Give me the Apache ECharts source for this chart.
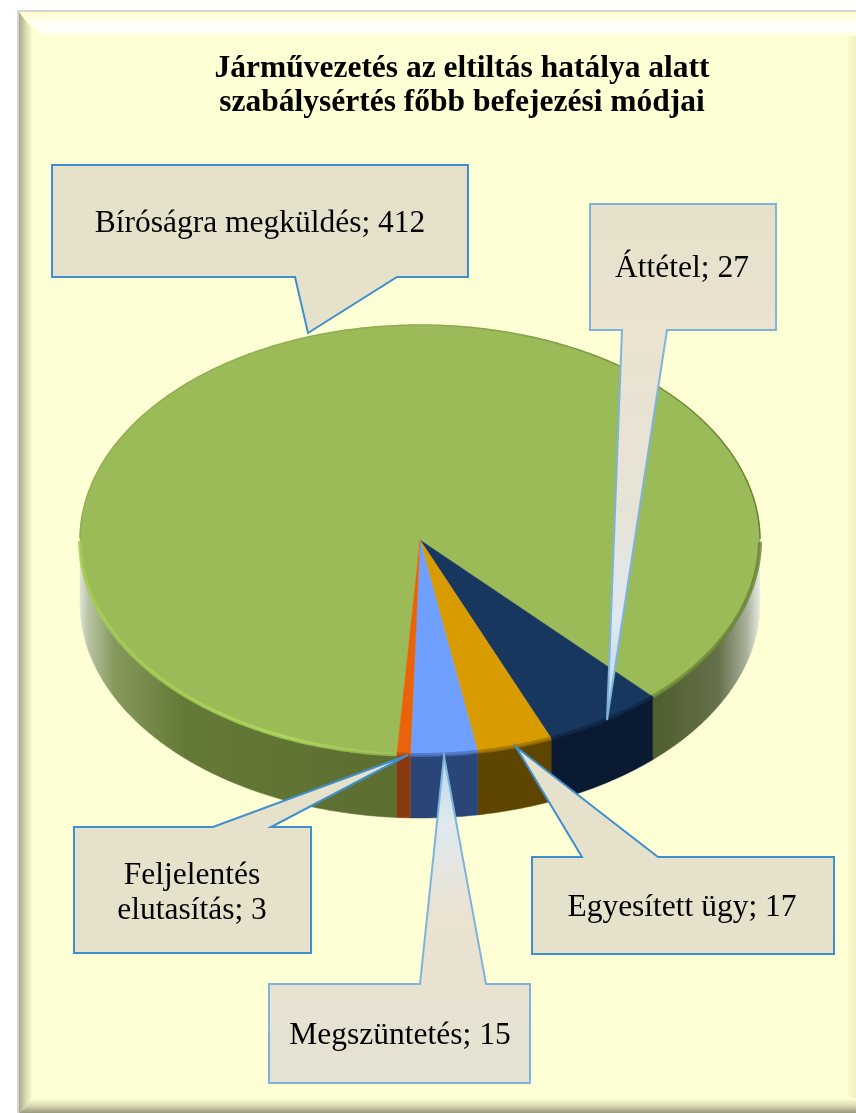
<!DOCTYPE html>
<html>
<head>
<meta charset="utf-8">
<style>
  html, body { margin: 0; padding: 0; background: #fff; }
  #main { width: 856px; height: 1113px; }
</style>
<script src="https://cdn.jsdelivr.net/npm/echarts@6/dist/echarts.min.js"></script>
</head>
<body>
<div id="main"></div>
<script>
var chartTitle = 'Járművezetés az eltiltás hatálya alatt\nszabálysértés főbb befejezési módjai'
// clockwise from the big slice
var categories = ['Bíróságra megküldés', 'Áttétel', 'Egyesített ügy', 'Megszüntetés', 'Feljelentés elutasítás']
var values = [412, 27, 17, 15, 3]

var topColors = ['#9bbb59', '#17375e', '#d99c00', '#6f9fff', '#e8630a']
var wallColors = ['#5c6e30', '#0b1a33', '#5e4500', '#2a4577', '#8a3a10']
var rimColors = ['#9bbb59', '#0f2445', '#9c7200', '#4d70b8', '#b54a08']

var TILT = 215 / 340 // ellipse ratio
var DEPTH = 63

// callout geometry, same order as categories
var callouts = [
  { box: [52, 165, 468, 277], side: 'bottom', base: [295, 397], tip: [308, 333], textAt: [260, 224] },
  { box: [590, 204, 776, 330], side: 'bottom', base: [622, 667], tip: [607, 720], textAt: [682, 269], glow: [[0, '#e6e1cb'], [0.25, '#ebe2d0'], [0.6, '#e6e3d6'], [0.8, '#dfe9ef'], [1, '#b8d6ea']] },
  { box: [532, 857, 834, 954], side: 'top', base: [582, 658], tip: [516, 747], textAt: [682, 908] },
  { box: [269, 984, 530, 1083], side: 'top', base: [420, 486], tip: [444, 756], textAt: [400, 1036], glow: [[0, '#b8d6ea'], [0.2, '#dfe9ef'], [0.5, '#ebe2d0'], [1, '#e4e2d2']] },
  { box: [74, 827, 311, 953], side: 'top', base: [213, 271], tip: [408, 755], textAt: [192, 893], wrap: true }
]

var rows = []
var cum = 0
values.forEach(function (v) {
  rows.push([1, cum, v])
  cum += v
})
var total = cum

function grad (x1, y1, x2, y2, stops) {
  return new echarts.graphic.LinearGradient(x1, y1, x2, y2, stops.map(function (s) {
    return { offset: s[0], color: s[1] }
  }), true)
}

// points of one slice's arc, squashed to the ellipse
function arcPoints (api) {
  var start = api.value(1)
  var size = api.value(2)
  var cy = api.coord([0, 0])[1]
  var steps = Math.max(4, Math.round(size))
  var pts = []
  for (var i = 0; i <= steps; i++) {
    var p = api.coord([1, start + size * i / steps])
    pts.push([p[0], cy + (p[1] - cy) * TILT])
  }
  return pts
}

// split an arc into the runs on the front (or back) half of the ellipse
function splitRuns (pts, cy, front) {
  var runs = []
  var run = []
  pts.forEach(function (p) {
    if ((p[1] >= cy) === front) {
      run.push(p)
    } else if (run.length) {
      runs.push(run)
      run = []
    }
  })
  if (run.length) runs.push(run)
  return runs
}

var greenWall = grad(80, 0, 760, 0, [
  [0, '#dfe3d6'], [0.012, '#b9c4a4'], [0.05, '#869a5e'], [0.15, '#647a38'], [0.45, '#5c6e30'],
  [0.85, '#4f5f2e'], [0.94, '#66714c'], [0.98, '#a9b09a'], [1, '#e8ebe0']
])

function renderWall (params, api) {
  var idx = params.dataIndex
  var cy = api.coord([0, 0])[1]
  var fill = idx === 0 ? greenWall : wallColors[idx]
  return {
    type: 'group',
    children: splitRuns(arcPoints(api), cy, true).map(function (r) {
      var lower = r.map(function (p) { return [p[0], p[1] + DEPTH] }).reverse()
      return {
        type: 'polygon',
        shape: { points: r.concat(lower) },
        style: { fill: fill, stroke: fill, lineWidth: 0.5 }
      }
    })
  }
}

var greenRimFront = grad(80, 0, 760, 0, [
  [0, '#a4cc50'], [0.3, '#b4e05c'], [0.5, '#9bbb59'], [0.7, '#7d9c42'], [1, '#5f7d2c']
])
var greenRimBack = grad(80, 0, 760, 0, [
  [0, '#8fae52'], [0.5, '#8fae52'], [1, '#66842f']
])

function renderTop (params, api) {
  var idx = params.dataIndex
  var c = api.coord([0, 0])
  var pts = arcPoints(api)
  var children = [{
    type: 'polygon',
    shape: { points: [c].concat(pts) },
    style: { fill: topColors[idx], stroke: topColors[idx], lineWidth: 0.5 }
  }]
  splitRuns(pts, c[1], true).forEach(function (r) {
    children.push({
      type: 'polyline',
      shape: { points: r },
      style: { fill: 'none', stroke: idx === 0 ? greenRimFront : rimColors[idx], lineWidth: 4, opacity: 0.75 }
    })
  })
  splitRuns(pts, c[1], false).forEach(function (r) {
    children.push({
      type: 'polyline',
      shape: { points: r },
      style: { fill: 'none', stroke: greenRimBack, lineWidth: 1.5 }
    })
  })
  return { type: 'group', children: children }
}

function calloutPoints (c) {
  var b = c.box
  if (c.side === 'bottom') {
    return [[b[0], b[1]], [b[2], b[1]], [b[2], b[3]], [c.base[1], b[3]], c.tip, [c.base[0], b[3]], [b[0], b[3]]]
  }
  return [[b[0], b[1]], [c.base[0], b[1]], c.tip, [c.base[1], b[1]], [b[2], b[1]], [b[2], b[3]], [b[0], b[3]]]
}

var graphics = [
  // page card and its bevel
  { type: 'rect', z: -5, silent: true, shape: { x: 17, y: 10, width: 839, height: 1103 }, style: { fill: '#d6d6d6' } },
  { type: 'rect', z: -4, silent: true, shape: { x: 19, y: 12, width: 837, height: 1101 }, style: { fill: '#ffffd5' } },
  {
    type: 'polygon', z: -3, silent: true,
    shape: { points: [[19, 12], [856, 12], [856, 36], [44, 36]] },
    style: { fill: grad(0, 12, 0, 36, [[0, '#fffbc8'], [0.4, '#fffff0'], [0.75, '#ffffff'], [1, '#ffffd5']]) }
  },
  {
    type: 'polygon', z: -3, silent: true,
    shape: { points: [[19, 12], [33, 30], [33, 1098], [19, 1113]] },
    style: { fill: grad(19, 0, 33, 0, [[0, '#a8a88c'], [0.5, '#dcdcb4'], [1, '#ffffd5']]) }
  },
  {
    type: 'polygon', z: -3, silent: true,
    shape: { points: [[19, 1113], [33, 1098], [856, 1098], [856, 1113]] },
    style: { fill: grad(0, 1098, 0, 1113, [[0, '#ffffd5'], [0.5, '#dcdcb4'], [1, '#99997e']]) }
  },
  {
    type: 'rect', z: -3, silent: true,
    shape: { x: 846, y: 36, width: 10, height: 1062 },
    style: { fill: grad(846, 0, 856, 0, [[0, '#ffffd5'], [1, '#efefc0']]) }
  }
]

callouts.forEach(function (c, i) {
  var b = c.box
  var label = categories[i] + '; ' + values[i]
  var yFrom = Math.min(b[1], c.tip[1])
  var yTo = Math.max(b[3], c.tip[1])
  graphics.push({
    type: 'polygon', z: 20, silent: true,
    shape: { points: calloutPoints(c) },
    style: {
      fill: c.glow ? grad(0, yFrom, 0, yTo, c.glow) : '#e6e1cb',
      stroke: c.glow ? '#7fb4da' : '#3f8fcc',
      lineWidth: 2,
      lineJoin: 'miter'
    }
  })
  graphics.push({
    type: 'text', z: 21, silent: true,
    style: {
      x: c.textAt[0],
      y: c.textAt[1],
      text: c.wrap ? label.replace(' ', '\n') : label,
      fill: '#000',
      font: '31.5px "Liberation Serif"',
      lineHeight: 35,
      align: 'center',
      verticalAlign: 'middle'
    }
  })
})

var myChart = echarts.init(document.getElementById('main'))
myChart.setOption({
  animation: false,
  backgroundColor: '#fff',
  title: {
    text: chartTitle,
    left: 457,
    top: 47,
    textAlign: 'center',
    textStyle: {
      fontFamily: 'Liberation Serif',
      fontWeight: 'bold',
      fontSize: 31.5,
      lineHeight: 34,
      color: '#000'
    }
  },
  polar: { center: [420, 540], radius: 340 },
  angleAxis: { type: 'value', min: 0, max: total, startAngle: 266.1, show: false },
  radiusAxis: { type: 'value', min: 0, max: 1, show: false },
  series: [
    {
      type: 'custom',
      coordinateSystem: 'polar',
      z: 2,
      silent: true,
      renderItem: renderWall,
      encode: { radius: 0, angle: 1 },
      data: rows
    },
    {
      type: 'custom',
      coordinateSystem: 'polar',
      z: 3,
      silent: true,
      renderItem: renderTop,
      encode: { radius: 0, angle: 1 },
      data: rows
    }
  ],
  graphic: graphics
})
</script>
</body>
</html>
